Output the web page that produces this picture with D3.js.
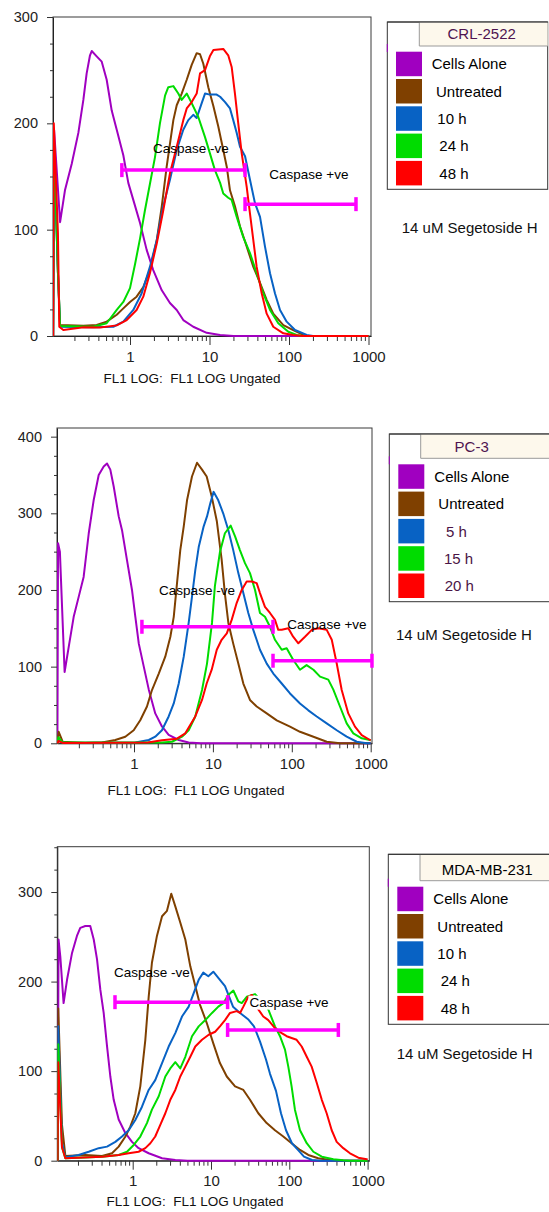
<!DOCTYPE html>
<html><head><meta charset="utf-8">
<script src="https://cdn.jsdelivr.net/npm/d3@7"></script>
<style>
body{margin:0;background:#fff;}
svg{display:block;font-family:"Liberation Sans",Arial,sans-serif;}
</style></head><body>
<svg id="c" width="549" height="1212"></svg>
<script>
// ---------------- DATA ----------------
const panelTitles = ["CRL-2522", "PC-3", "MDA-MB-231"];
const crlLegend = ["Cells Alone", "Untreated", "10 h", "24 h", "48 h"];
const pc3Legend = ["Cells Alone", "Untreated", "5 h", "15 h", "20 h"];
const mdaLegend = ["Cells Alone", "Untreated", "10 h", "24 h", "48 h"];
const treatmentNote = "14 uM Segetoside H";
const xAxisTitle = "FL1 LOG:  FL1 LOG Ungated";
const gateNegText = "Caspase -ve";
const gatePosText = "Caspase +ve";
const xTickValues = [1, 10, 100, 1000];
const yTicksCrl = [0, 100, 200, 300];
const yTicksPc3 = [0, 100, 200, 300, 400];
const yTicksMda = [0, 100, 200, 300];

// histograms: [FL1 value, count]
const crlCellsAlone = [[0.108,0],[0.111,194],[0.132,107],[0.152,137],[0.185,162],[0.224,191],[0.259,222],[0.285,247],[0.314,264],[0.330,268],[0.381,263],[0.441,258],[0.509,241],[0.589,212],[0.681,194],[0.824,170],[0.952,144],[1.10,128],[1.34,106],[1.62,81],[1.96,62],[2.51,43],[3.18,31],[3.87,24.5],[4.68,15],[6.25,8.7],[9.22,3],[13.6,1],[20,0],[1000,0]];
const crlUntreated = [[0.108,0],[0.110,185],[0.124,60],[0.132,10.3],[0.259,9.7],[0.381,10.3],[0.509,13.5],[0.681,20],[0.824,26],[1,32],[1.21,37],[1.47,46],[1.78,62],[2.17,90],[2.51,122],[2.89,159],[3.51,203],[3.87,217],[4.47,228],[5.17,241],[5.97,255],[6.90,266],[7.60,265],[8.36,256],[9.66,234],[11.2,216],[12.9,197],[14.9,175],[16.5,159],[18.1,137],[20.9,122],[24.2,103],[29.4,84],[35.6,65],[43.2,50],[52.4,34],[63.4,21],[84.8,10.3],[113,5.6],[151,1],[170,0],[1000,0]];
const crl10h = [[0.108,0],[0.110,185],[0.124,60],[0.132,8.7],[0.345,8.2],[0.617,8.7],[0.824,13.5],[1.10,24.5],[1.40,40],[1.78,65],[2.17,90],[2.62,122],[3.18,147],[3.87,175],[4.68,194],[5.41,203],[6.25,208],[6.90,205],[7.98,219],[8.78,228],[10.1,227],[12.3,227],[13.6,225],[15.7,220],[18.1,214],[19.9,203],[22.0,191],[24.2,178],[28.0,169],[32.3,147],[37.3,125],[43.2,112],[49.9,84],[57.7,59],[66.7,40],[77.1,24.5],[93.5,13.5],[119,5.6],[167,1],[200,0],[1000,0]];
const crl24h = [[0.108,0],[0.110,190],[0.124,60],[0.132,9.4],[0.345,8.7],[0.509,12],[0.681,24.5],[0.824,32],[1,45],[1.16,68],[1.34,92],[1.54,118],[1.78,143],[2.06,168],[2.38,200],[2.76,226],[3.03,234],[3.51,235],[4.05,228],[4.47,222],[5.17,228],[5.97,219],[7.23,206],[8.78,187],[10.1,172],[11.7,156],[13.6,144],[14.9,134],[17.2,130],[19.0,128],[22.0,112],[26.6,93],[32.3,78],[39.2,59],[47.5,40],[57.7,24.5],[73.3,12],[98,4],[125,1],[150,0],[1000,0]];
const crl48h = [[0.108,0],[0.110,200],[0.124,97],[0.129,8.7],[0.145,5.6],[0.259,8.2],[0.420,8],[0.681,10],[0.909,15],[1.21,24.5],[1.47,37],[1.78,59],[2.17,87],[2.62,118],[3.18,153],[3.87,178],[4.68,203],[5.17,214],[5.97,220],[6.90,228],[7.60,247],[8.78,250],[10.1,263],[11.2,269],[14.9,270],[17.2,264],[19.0,253],[20.9,228],[23.0,200],[25.4,172],[29.4,140],[32.3,115],[35.6,90],[39.2,65],[45.4,40],[52.4,21],[63.4,8.7],[84.8,2.5],[113,1],[150,0],[1000,0]];

const pc3CellsAlone = [[0.107,0],[0.109,261],[0.115,250],[0.132,93],[0.149,126],[0.172,165],[0.199,191],[0.230,217],[0.267,274],[0.308,317],[0.357,350],[0.413,361],[0.455,365],[0.501,357],[0.553,335],[0.640,296],[0.705,278],[0.815,239],[0.943,200],[1.04,165],[1.15,130],[1.33,100],[1.54,70],[1.86,39],[2.26,22],[2.75,11],[3.69,4.3],[4.93,1],[7,0],[1000,0]];
const pc3Untreated = [[0.107,0],[0.111,15],[0.125,2],[0.241,0.5],[0.393,1],[0.579,4.3],[0.776,8.6],[0.991,17],[1.20,30],[1.46,48],[1.69,69.5],[2.06,91],[2.49,113],[2.89,139],[3.19,165],[3.51,209],[3.86,252],[4.27,283],[4.70,317],[5.43,348],[6.29,366],[7.28,357],[8.34,348],[9.66,322],[11.2,290],[12.9,240],[14.2,195],[15.7,157],[18.1,130],[21.0,104],[24.3,78],[29.5,56.5],[35.9,48],[48.1,39],[64.4,30],[94.9,21.7],[127,15],[188,8.6],[277,2],[408,0],[1000,0]];
const pc35h = [[0.107,0],[0.110,4],[0.13,0.5],[1.04,1],[1.54,4.3],[1.86,8.6],[2.26,17],[2.75,35],[3.19,52],[3.69,78],[4.27,113],[4.93,157],[5.43,191],[5.98,226],[6.61,256],[7.64,283],[8.42,296],[9.27,313],[10.2,328],[11.7,317],[13.5,300],[15.7,278],[18.1,252],[21.0,222],[24.3,196],[28.1,170],[32.5,148],[39.5,122],[48.1,104],[58.3,91],[74.5,78],[94.9,65],[127,52],[162,43],[207,35],[277,26],[371,17],[496,8.6],[665,2],[890,0],[1000,0]];
const pc315h = [[0.107,0],[0.110,8],[0.125,1],[2.26,1],[3.03,2],[4.06,8.6],[4.93,17],[5.98,35],[7.28,69.5],[8.42,104],[9.74,157],[10.6,205],[12.3,250],[14.2,274],[16.8,284],[19.1,270],[22.0,252],[25.5,235],[29.5,222],[34.2,200],[39.5,170],[45.7,165],[52.9,152],[61.2,135],[74.5,122],[86.1,124],[104,109],[127,96],[154,102],[188,96],[228,87],[290,83],[336,70],[408,48],[496,26],[602,13],[769,6.5],[979,4.3],[1000,4]];
const pc320h = [[0.107,0],[0.110,3],[0.125,0.5],[1.5,1],[2.26,4],[3.5,6],[4.47,13],[5.98,35],[7.28,56.5],[8.34,78],[9.66,96],[11.2,122],[12.9,135],[15.0,143.5],[17.3,161],[20.0,183],[23.2,200],[26.8,211],[31.0,211],[35.9,209],[39.5,196],[45.7,178],[52.9,170],[61.2,161],[67.4,148],[74.5,148],[90.3,150],[104,139],[121,130.5],[147,139],[179,148],[217,150],[277,148],[321,135],[371,104],[429,69.5],[520,39],[632,21.7],[769,10.8],[979,4.3],[1000,4]];

const mdaCellsAlone = [[0.110,0],[0.113,247],[0.119,228],[0.131,176],[0.145,202],[0.168,232],[0.194,251],[0.214,260],[0.248,262],[0.287,262],[0.318,247],[0.350,225],[0.386,191],[0.426,165],[0.470,128],[0.518,94],[0.572,68],[0.662,46],[0.804,31],[0.98,21],[1.19,14],[1.60,8.3],[2.37,2.7],[3.50,0.8],[5,0],[1000,0]];
const mdaUntreated = [[0.110,0],[0.112,170],[0.125,40],[0.138,5.3],[0.248,6.4],[0.406,5.3],[0.544,8.3],[0.662,15.7],[0.804,26.8],[0.932,38],[1.08,53],[1.25,83],[1.45,135],[1.60,183],[1.76,221],[2.04,251],[2.37,273],[2.74,279],[3.11,298],[3.50,284],[4.05,266],[4.70,247],[5.44,217],[6.30,195],[7.24,174],[8.81,154],[10.7,131],[13.0,109],[15.9,94],[20.3,83],[25.9,79],[31.5,68],[40.2,53],[51.4,42],[65.6,34],[83.8,27],[107,19.5],[137,12],[175,6.4],[234,2.7],[331,0.8],[400,0],[1000,0]];
const mda10h = [[0.110,0],[0.112,150],[0.125,20],[0.138,3.8],[0.204,6.4],[0.274,10],[0.368,14],[0.470,15.7],[0.600,21],[0.730,27],[0.889,34],[1.08,45.5],[1.31,60],[1.60,79],[1.94,90],[2.37,109],[2.88,127.5],[3.50,142.5],[4.26,161],[5.19,172],[6.01,187],[6.96,202],[7.97,210],[9.24,206],[10.7,211],[12.4,204],[15.1,195],[19.1,172],[23.5,165],[29.7,158],[35.4,150],[42.3,133],[50.4,113],[56.7,97],[67.6,78],[78.3,53],[90.8,34],[108,19.5],[129,12],[154,4.5],[195,0.8],[250,0],[1000,0]];
const mda24h = [[0.110,0],[0.112,130],[0.125,15],[0.138,2.7],[0.406,4.5],[0.662,6.4],[0.846,10],[1.03,17.6],[1.25,27],[1.52,42],[1.76,57],[2.15,72],[2.61,94],[3.02,103],[3.50,110],[4.05,103],[4.70,116],[5.72,139],[6.96,150],[8.46,157],[10.3,165],[12.4,172],[14.4,176],[16.6,185],[19.3,190],[22.3,178],[24.7,176],[28.6,183],[36.5,186],[44.8,178],[53.9,169],[65.6,150],[76.1,139],[88.1,124],[97.1,105],[107,83],[118,57],[137,34],[167,19.5],[203,10],[260,4.5],[365,1.6],[489,0.5],[600,0],[1000,0]];
const mda48h = [[0.110,0],[0.112,110],[0.125,15],[0.138,2.7],[0.406,4.5],[0.662,6.4],[0.889,8.3],[1.19,10],[1.45,14],[1.68,19.5],[1.94,27],[2.25,40],[2.61,53],[3.02,68],[3.50,79],[4.05,94],[4.70,105],[5.44,116],[6.30,127.5],[7.67,135],[9.35,140.6],[11.3,144],[13.0,150],[15.1,157],[17.5,165],[21.3,167],[23.5,165],[25.9,172],[29.9,183],[33.4,185],[40.2,169],[46.5,161],[53.9,157],[65.6,148],[80.0,142.5],[92.6,139],[107,137],[124,135],[144,127.5],[167,116],[193,105],[224,87],[260,68],[300,53],[348,34],[403,21],[489,14],[596,8.3],[761,3.4],[974,1.6],[1000,1.5]];

// gates: [from FL1, to FL1, count level]; label anchors: [FL1, count]
const crlNegGate = [0.79, 28, 156];
const crlPosGate = [28, 696, 124];
const crlNegLabel = [5.85, 172];
const crlPosLabel = [178, 148];
const pc3NegGate = [1.26, 57.8, 152];
const pc3PosGate = [57.8, 1038, 107.7];
const pc3NegLabel = [6.29, 193.5];
const pc3PosLabel = [279, 149];
const mdaNegGate = [0.594, 16.3, 177];
const mdaPosGate = [16.3, 423, 146];
const mdaNegLabel = [1.76, 205];
const mdaPosLabel = [99.1, 172];

// ---------------- STYLE / LAYOUT ----------------
const seriesColors = ["#a000c0", "#7f4000", "#0862c4", "#00dc00", "#ff0000"];
const gateColor = "#ff00ff";
const panels = [
  {series:[crlCellsAlone,crlUntreated,crl10h,crl24h,crl48h], names:crlLegend, title:panelTitles[0], yTicks:yTicksCrl,
   neg:crlNegGate, pos:crlPosGate, negLab:crlNegLabel, posLab:crlPosLabel, posBg:false,
   L:{left:53,right:371,top:17,bottom:336,one:130,dec:79.5,yMax:300,xLabX:192,xLabY:383.3,
      legX:387.3,legY:22,legR:547.7,legB:189.3,hX:419.3,hB:46,titleX:481.7,titleY:39,titleColor:"#4f1450",
      swX:396,swY:51.7,textX:[431.7,436,437.3,439.3,439.3],textColor:["#000","#000","#000","#000","#000"],noteX:401.7,noteY:233}},
  {series:[pc3CellsAlone,pc3Untreated,pc35h,pc315h,pc320h], names:pc3Legend, title:panelTitles[1], yTicks:yTicksPc3,
   neg:pc3NegGate, pos:pc3PosGate, negLab:pc3NegLabel, posLab:pc3PosLabel, posBg:false,
   L:{left:57,right:372,top:428,bottom:743.3,one:134,dec:78.9,yMax:411.3,xLabX:196,xLabY:795,
      legX:389.3,legY:434,legR:551,legB:601.7,hX:420.7,hB:458.3,titleX:471.7,titleY:451.7,titleColor:"#4f1450",
      swX:398.3,swY:464.3,textX:[434.3,438.3,446,444,444.7],textColor:["#000","#000","#4a1446","#4a1446","#4a1446"],noteX:396,noteY:640}},
  {series:[mdaCellsAlone,mdaUntreated,mda10h,mda24h,mda48h], names:mdaLegend, title:panelTitles[2], yTicks:yTicksMda,
   neg:mdaNegGate, pos:mdaPosGate, negLab:mdaNegLabel, posLab:mdaPosLabel, posBg:true,
   L:{left:57.3,right:369.3,top:846.7,bottom:1160.7,one:132.7,dec:78.3,yMax:350.6,xLabX:195,xLabY:1206,
      legX:388.3,legY:854.3,legR:551,legB:1024.3,hX:420,hB:880.7,titleX:487.2,titleY:875,titleColor:"#000",
      swX:397.3,swY:886.7,textX:[433.3,437.3,437.3,440.7,440.7],textColor:["#000","#000","#000","#000","#000"],noteX:396.7,noteY:1059}}
];

const svg = d3.select("#c");

panels.forEach((p, pi) => {
  const L = p.L;
  const x0 = d3.scaleLog().domain([1, 1000]).range([L.one, L.one + 3 * L.dec]);
  const x = d3.scaleLog().domain([x0.invert(L.left), x0.invert(L.right)]).range([L.left, L.right]);
  const y = d3.scaleLinear().domain([0, L.yMax]).range([L.bottom, L.top]);
  const g = svg.append("g");

  // frame
  g.append("rect").attr("x", L.left).attr("y", L.top).attr("width", L.right - L.left).attr("height", L.bottom - L.top)
    .attr("fill", "none").attr("stroke", "#3a3a3a").attr("stroke-width", 1);

  // y axis: major + minor
  const yMinor = d3.range(25, L.yMax, 25).filter(v => v % 100 !== 0);
  const ya = g.append("g").attr("transform", `translate(${L.left},0)`)
    .call(d3.axisLeft(y).tickValues(p.yTicks).tickSize(6).tickSizeOuter(0).tickPadding(9).tickFormat(d3.format("d")));
  const ym = g.append("g").attr("transform", `translate(${L.left},0)`)
    .call(d3.axisLeft(y).tickValues(yMinor).tickSize(3).tickSizeOuter(0).tickFormat(""));
  ym.select(".domain").remove();

  // x axis: decades + minor
  const dom = x.domain();
  const xMinor = [];
  [0.1, 1, 10, 100].forEach(d => { for (let k = 2; k <= 9; k++) { const v = k * d; if (v >= dom[0] && v <= dom[1]) xMinor.push(v); } });
  const xa = g.append("g").attr("transform", `translate(0,${L.bottom})`)
    .call(d3.axisBottom(x).tickValues(xTickValues).tickSize(9).tickSizeOuter(0).tickPadding(6).tickFormat(d3.format("d")));
  const xm = g.append("g").attr("transform", `translate(0,${L.bottom})`)
    .call(d3.axisBottom(x).tickValues(xMinor).tickSize(5).tickSizeOuter(0).tickFormat(""));
  xm.select(".domain").remove();
  [ya, ym, xa, xm].forEach(a => {
    a.selectAll("line").attr("stroke", "#333");
    a.selectAll(".domain").attr("stroke", "#222");
    a.selectAll("text").attr("fill", "#222").attr("font-family", "Liberation Sans, Arial, sans-serif");
  });
  ya.selectAll("text").attr("font-size", 14.5);
  xa.selectAll("text").attr("font-size", 15);

  // axis title
  g.append("text").attr("x", L.xLabX).attr("y", L.xLabY).attr("text-anchor", "middle")
    .attr("font-size", 13.5).attr("fill", "#111").attr("xml:space", "preserve").text(xAxisTitle);

  // curves
  const clipId = "clip" + pi;
  svg.append("clipPath").attr("id", clipId).append("rect")
    .attr("x", L.left).attr("y", L.top - 1).attr("width", L.right - L.left + 1).attr("height", L.bottom - L.top + 3);
  const line = d3.line().x(d => x(d[0])).y(d => y(d[1]));
  const cg = g.append("g").attr("clip-path", `url(#${clipId})`);
  p.series.forEach((s, i) => {
    cg.append("path").datum(s).attr("d", line).attr("fill", "none")
      .attr("stroke", seriesColors[i]).attr("stroke-width", 2).attr("stroke-linejoin", "round");
  });

  // gates
  const gg = g.append("g").attr("stroke", gateColor).attr("stroke-width", 3.5);
  [p.neg, p.pos].forEach(gt => {
    const yy = y(gt[2]);
    gg.append("line").attr("x1", x(gt[0])).attr("x2", x(gt[1])).attr("y1", yy).attr("y2", yy);
    [gt[0], gt[1]].forEach(v => gg.append("line").attr("x1", x(v)).attr("x2", x(v)).attr("y1", yy - 7).attr("y2", yy + 7));
  });
  g.append("text").attr("x", x(p.negLab[0])).attr("y", y(p.negLab[1])).attr("text-anchor", "middle")
    .attr("font-size", 13.5).attr("fill", "#000").text(gateNegText);
  const pt = g.append("text").attr("x", x(p.posLab[0])).attr("y", y(p.posLab[1])).attr("text-anchor", "middle")
    .attr("font-size", 13.5).attr("fill", "#000").text(gatePosText);
  if (p.posBg) {
    const bb = pt.node().getBBox();
    g.insert("rect", () => pt.node()).attr("x", bb.x - 1).attr("y", bb.y + 1).attr("width", bb.width + 2).attr("height", bb.height - 1).attr("fill", "#fff");
  }

  // legend
  const lg = svg.append("g");
  lg.append("rect").attr("x", L.legX).attr("y", L.legY).attr("width", L.legR - L.legX).attr("height", L.legB - L.legY)
    .attr("fill", "#fff").attr("stroke", "#333").attr("stroke-width", 1);
  lg.append("rect").attr("x", L.hX).attr("y", L.legY + 0.5).attr("width", L.legR - L.hX).attr("height", L.hB - L.legY - 0.5)
    .attr("fill", "#fdf8ec");
  lg.append("line").attr("x1", L.hX).attr("x2", L.hX).attr("y1", L.legY).attr("y2", L.hB).attr("stroke", "#9a9a9a");
  lg.append("line").attr("x1", L.hX).attr("x2", L.legR).attr("y1", L.hB).attr("y2", L.hB).attr("stroke", "#9a9a9a");
  lg.append("line").attr("x1", L.legX).attr("x2", L.legR).attr("y1", L.legY).attr("y2", L.legY).attr("stroke", "#333");
  lg.append("line").attr("x1", L.legX).attr("x2", L.legX).attr("y1", L.hB - 2).attr("y2", L.hB + 6).attr("stroke", seriesColors[0]).attr("stroke-width", 1);
  lg.append("text").attr("x", L.titleX).attr("y", L.titleY).attr("text-anchor", "middle").attr("font-size", 15)
    .attr("fill", L.titleColor).text(p.title);
  p.names.forEach((nm, i) => {
    const ry = L.swY + i * 27.3;
    lg.append("rect").attr("x", L.swX).attr("y", ry).attr("width", 26).attr("height", 24.5).attr("fill", seriesColors[i]);
    lg.append("text").attr("x", L.textX[i]).attr("y", ry + 12.25 + 5.4).attr("font-size", 15).attr("fill", L.textColor[i]).text(nm);
  });
  svg.append("text").attr("x", L.noteX).attr("y", L.noteY).attr("font-size", 15).attr("fill", "#111").text(treatmentNote);
});
</script>
</body></html>
